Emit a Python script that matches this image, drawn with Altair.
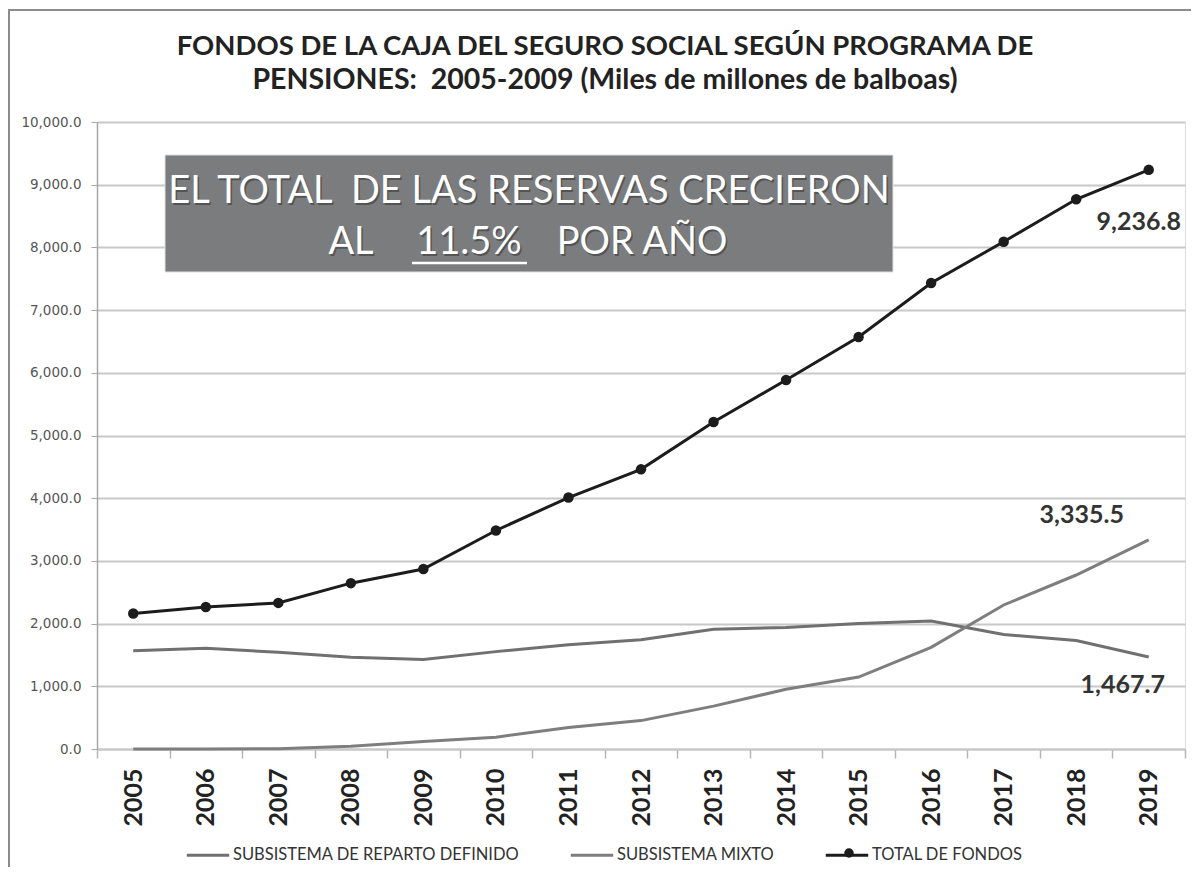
import altair as alt
import pandas as pd

years = list(range(2005, 2020))
reparto = [1568, 1605, 1542, 1463, 1426, 1553, 1663, 1742, 1910, 1937, 2000, 2042, 1825, 1730, 1467.7]
mixto = [0, 0, 5, 42, 121, 189, 342, 453, 684, 953, 1147, 1621, 2297, 2775, 3335.5]
total = [2160, 2265, 2330, 2645, 2870, 3485, 4010, 4460, 5215, 5885, 6570, 7432, 8091, 8767, 9236.8]

series_names = ["SUBSISTEMA DE REPARTO DEFINIDO", "SUBSISTEMA MIXTO", "TOTAL DE FONDOS"]
series_colors = ["#707070", "#7e7e7e", "#1c1c1c"]

title_lines = ["FONDOS DE LA CAJA DEL SEGURO SOCIAL SEGÚN PROGRAMA DE",
               "PENSIONES:\u00a0 2005-2009 (Miles de millones de balboas)"]
box_line1 = "EL TOTAL\u00a0 DE LAS RESERVAS CRECIERON"
box_line2 = ["AL", "11.5%", "POR AÑO"]

end_labels = ["9,236.8", "3,335.5", "1,467.7"]
end_values = [total[-1], mixto[-1], reparto[-1]]

FONT = "Lato"

lines_df = pd.DataFrame({
    "year": years * 3,
    "value": reparto + mixto + total,
    "serie": [series_names[0]] * 15 + [series_names[1]] * 15 + [series_names[2]] * 15,
    "order": list(range(15)) * 3,
})
total_df = pd.DataFrame({"year": years, "value": total})
lab_df = pd.DataFrame({"year": [years[-1]] * 3, "value": end_values, "label": end_labels})

xenc = alt.X(
    "year:O",
    scale=alt.Scale(type="band", paddingInner=0, paddingOuter=0),
    bandPosition=0.5,
    axis=alt.Axis(
        title=None, labelAngle=-90, tickBand="extent", grid=False,
        domainColor="#c8c8c8", domainWidth=2, tickColor="#b4b4b4", tickWidth=1.5,
        tickSize=9, labelFont=FONT, labelFontWeight="bold", labelFontSize=25,
        labelColor="#222222", labelPadding=10,
    ),
)
yenc = alt.Y(
    "value:Q",
    scale=alt.Scale(domain=[0, 10000]),
    axis=alt.Axis(
        title=None, values=list(range(0, 10001, 1000)), format=",.1f",
        grid=True, gridColor="#c8c8c8", gridWidth=2,
        domainColor="#a6a6a6", domainWidth=1.5, tickColor="#a6a6a6", tickSize=6,
        labelFont="DejaVu Sans", labelFontSize=13.5, labelColor="#555555", labelPadding=10,
    ),
)

one = pd.DataFrame({"a": [0]})

frame = alt.Chart(one).mark_rect(
    fill=None, stroke="#8c8c8c", strokeWidth=2
).encode(x=alt.value(-88), x2=alt.value(1200), y=alt.value(-112), y2=alt.value(900))

title1 = alt.Chart(one).mark_text(
    text=title_lines[0], font=FONT, fontWeight="bold", fontSize=27.5, color="#222222",
    align="center", baseline="middle"
).encode(x=alt.value(508), y=alt.value(-75))
title2 = alt.Chart(one).mark_text(
    text=title_lines[1], font=FONT, fontWeight="bold", fontSize=28.5, color="#222222",
    align="center", baseline="middle"
).encode(x=alt.value(508), y=alt.value(-42))

lines = alt.Chart(lines_df).mark_line(strokeWidth=3).encode(
    x=xenc, y=yenc,
    order="order:Q",
    color=alt.Color(
        "serie:N",
        scale=alt.Scale(domain=series_names, range=series_colors),
        legend=alt.Legend(
            orient="none", legendX=88, legendY=710, direction="horizontal", title=None,
            symbolType="stroke", symbolSize=1800, symbolStrokeWidth=3.5,
            labelFont=FONT, labelFontSize=16.5, labelColor="#333333", labelLimit=0,
            columnPadding=44, labelOffset=2,
        ),
    ),
    strokeWidth=alt.StrokeWidth("serie:N", scale=alt.Scale(domain=series_names, range=[3, 3, 4]), legend=None),
)

points = alt.Chart(total_df).mark_point(filled=True, size=110, color="#1c1c1c", opacity=1).encode(
    x=xenc, y=yenc
)

# dot on the TOTAL legend symbol
legend_dot = alt.Chart(one).mark_point(filled=True, size=90, color="#1c1c1c", opacity=1).encode(
    x=alt.value(752), y=alt.value(731))

lab_base = alt.Chart(lab_df).encode(x=xenc, y=yenc, text="label:N")
lab_t = lab_base.transform_filter(alt.datum.label == end_labels[0]).mark_text(
    font=FONT, fontWeight="bold", fontSize=25, color="#333333", dx=-10, dy=52)
lab_m = lab_base.transform_filter(alt.datum.label == end_labels[1]).mark_text(
    font=FONT, fontWeight="bold", fontSize=25, color="#333333", dx=-67, dy=-25)
lab_r = lab_base.transform_filter(alt.datum.label == end_labels[2]).mark_text(
    font=FONT, fontWeight="bold", fontSize=25, color="#333333", dx=-26, dy=28)

box = alt.Chart(one).mark_rect(fill="#7b7c7e", stroke="#e0e0e0", strokeWidth=1).encode(
    x=alt.value(68), x2=alt.value(796), y=alt.value(33), y2=alt.value(150))

def box_text(txt, xp, yp):
    shadow = alt.Chart(one).mark_text(
        text=txt, font=FONT, fontSize=38, color="#3a3a3a", opacity=0.6, align="center", baseline="middle"
    ).encode(x=alt.value(xp + 1.5), y=alt.value(yp + 1.5))
    front = alt.Chart(one).mark_text(
        text=txt, font=FONT, fontSize=38, color="#ffffff", align="center", baseline="middle"
    ).encode(x=alt.value(xp), y=alt.value(yp))
    return shadow + front

t1 = box_text(box_line1, 432, 70)
t2a = box_text(box_line2[0], 254, 121)
t2b = box_text(box_line2[1], 372, 121)
t2c = box_text(box_line2[2], 545, 121)
underline = alt.Chart(one).mark_rule(color="#ffffff", strokeWidth=2.5).encode(
    x=alt.value(315), x2=alt.value(430), y=alt.value(141))

chart = alt.layer(
    frame, title1, title2, box, t1, t2a, t2b, t2c, underline, lines, points, legend_dot,
    lab_t, lab_m, lab_r
).properties(
    width=1088, height=627,
    padding={"left": 89, "top": 114, "right": 6, "bottom": 118},
    autosize=alt.AutoSizeParams(type="none"),
).configure_view(stroke=None).configure(background="#ffffff")

chart.save("out.html", embed_options={"renderer": "svg", "actions": False})
